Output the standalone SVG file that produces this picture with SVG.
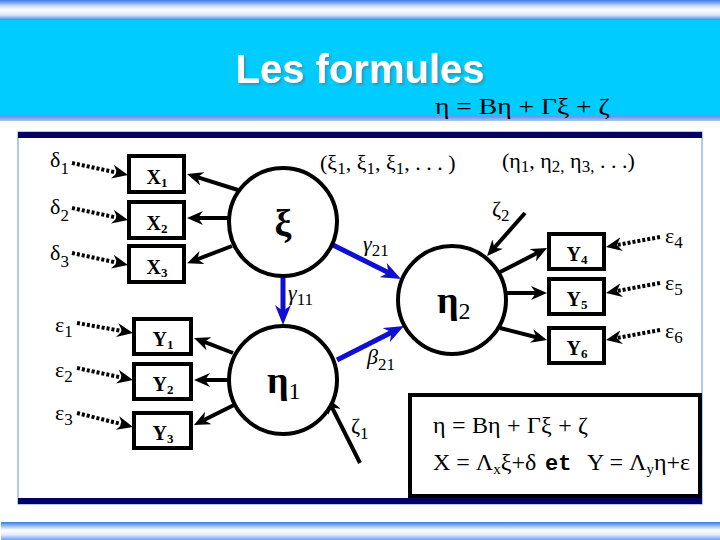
<svg xmlns="http://www.w3.org/2000/svg" width="720" height="540" viewBox="0 0 720 540">
<defs>
<linearGradient id="gTop" x1="0" y1="0" x2="0" y2="1">
<stop offset="0" stop-color="#3f7be6"/>
<stop offset="0.3" stop-color="#c8dcff"/>
<stop offset="0.5" stop-color="#ffffff"/>
<stop offset="0.75" stop-color="#d8e6ff"/>
<stop offset="1" stop-color="#4f86e0"/>
</linearGradient>
<linearGradient id="gBand" x1="0" y1="0" x2="0" y2="1">
<stop offset="0" stop-color="#5c95e8"/>
<stop offset="1" stop-color="#a9c6f2"/>
</linearGradient>
<linearGradient id="gBot" x1="0" y1="0" x2="0" y2="1">
<stop offset="0" stop-color="#3a7ae0"/>
<stop offset="0.45" stop-color="#ffffff"/>
<stop offset="0.7" stop-color="#e4eeff"/>
<stop offset="1" stop-color="#6d9ff0"/>
</linearGradient>
<filter id="sh" x="-5%" y="-20%" width="115%" height="150%">
<feDropShadow dx="2" dy="2" stdDeviation="0.8" flood-color="#4a7f90" flood-opacity="0.7"/>
</filter>
<marker id="ah" viewBox="0 0 16 14" markerUnits="userSpaceOnUse" markerWidth="16" markerHeight="14" refX="7" refY="7" orient="auto">
<path d="M0,0 L16,7 L0,14 L5,7 z" fill="#000"/>
</marker>
<marker id="ahb" viewBox="0 0 20 16" markerUnits="userSpaceOnUse" markerWidth="20" markerHeight="16" refX="9" refY="8" orient="auto">
<path d="M0,0 L20,8 L0,16 L6,8 z" fill="#1010d0"/>
</marker>
<style>
.box{fill:#fff;stroke:#000;stroke-width:4}
.circ{fill:#fff;stroke:#000;stroke-width:4}
.sol{fill:none;stroke:#000;stroke-width:4;marker-end:url(#ah)}
.dot{fill:none;stroke:#000;stroke-width:4;stroke-dasharray:3 2;marker-end:url(#ah)}
.blu{fill:none;stroke:#1010d0;stroke-width:5;marker-end:url(#ahb)}
.gr{font-family:"Liberation Serif","DejaVu Serif",serif;font-size:22px;fill:#000}
.sub{font-size:17px}
.bl{font-family:"Liberation Serif","DejaVu Serif",serif;font-size:20px;font-weight:bold;fill:#000;text-anchor:middle}
.bls{font-size:13px}
.big{font-family:"Liberation Serif","DejaVu Serif",serif;font-size:38px;font-weight:bold;fill:#000}
.f{font-family:"Liberation Serif","DejaVu Serif",serif;font-size:24px;fill:#000}
</style>
</defs>

<!-- header -->
<rect x="0" y="0" width="720" height="20" fill="url(#gTop)"/>
<rect x="0" y="20" width="720" height="96" fill="#00ccff"/>
<rect x="0" y="116" width="720" height="5" fill="url(#gBand)"/>
<text x="360" y="83" text-anchor="middle" font-family="Liberation Sans, Arial, sans-serif" font-size="40" font-weight="bold" fill="#ffffff" filter="url(#sh)">Les formules</text>
<text class="f" x="435" y="114" font-size="28" textLength="175" lengthAdjust="spacingAndGlyphs">η = Bη + Γξ + ζ</text>

<!-- bottom strip -->
<rect x="1" y="522" width="719" height="18" fill="url(#gBot)"/>

<!-- panel -->
<rect x="18" y="132" width="684" height="372" fill="#fff" stroke="#7aa7e0" stroke-width="1.2"/>
<rect x="18" y="132" width="684" height="6" fill="#000066"/>
<rect x="18" y="498" width="684" height="6" fill="#000066"/>

<!-- connectors -->
<g id="connectors">
<path class="dot" d="M72,163 L119.2,173.1"/>
<path class="dot" d="M72,208 L119.2,218.1"/>
<path class="dot" d="M72,253 L119.2,263.1"/>
<path class="dot" d="M77,323 L124.1,331.4"/>
<path class="dot" d="M77,368 L124.2,378.1"/>
<path class="dot" d="M77,413 L124.3,424.8"/>
<path class="dot" d="M660,237 L614.8,245.4"/>
<path class="dot" d="M660,283 L614.8,291.4"/>
<path class="dot" d="M660,330 L614.8,338.4"/>
<path class="sol" d="M238,190 L195.6,176.7"/>
<path class="sol" d="M228,218 L196,218"/>
<path class="sol" d="M232,246 L195.5,260"/>
<path class="sol" d="M233,353 L202.4,341.2"/>
<path class="sol" d="M228,380 L203,380"/>
<path class="sol" d="M234,405 L202,421"/>
<path class="sol" d="M500,272 L539,252.1"/>
<path class="sol" d="M507,293 L538,293"/>
<path class="sol" d="M500,328 L538.3,337.8"/>
<path class="sol" d="M525,213 L493,249.3"/>
<path class="sol" d="M360,463 L331.1,405.6"/>
<path class="blu" d="M333,245 L391.2,274.1"/>
<path class="blu" d="M283,277 L283,314"/>
<path class="blu" d="M337,360 L394.2,331"/>
</g>

<!-- error terms -->
<g id="delta1"><text class="gr" x="50" y="167">δ<tspan class="sub" dy="7">1</tspan></text></g>
<g id="delta2"><text class="gr" x="50" y="214">δ<tspan class="sub" dy="7">2</tspan></text></g>
<g id="delta3"><text class="gr" x="50" y="260">δ<tspan class="sub" dy="7">3</tspan></text></g>
<g id="eps1"><text class="gr" x="55" y="332">ε<tspan class="sub" dy="5">1</tspan></text></g>
<g id="eps2"><text class="gr" x="55" y="377">ε<tspan class="sub" dy="5">2</tspan></text></g>
<g id="eps3"><text class="gr" x="55" y="420">ε<tspan class="sub" dy="5">3</tspan></text></g>
<g id="eps4"><text class="gr" x="665" y="243">ε<tspan class="sub" dy="5">4</tspan></text></g>
<g id="eps5"><text class="gr" x="665" y="290">ε<tspan class="sub" dy="5">5</tspan></text></g>
<g id="eps6"><text class="gr" x="665" y="338">ε<tspan class="sub" dy="5">6</tspan></text></g>

<!-- observed variables -->
<g id="X1"><rect class="box" x="129" y="156" width="55" height="36"/><text class="bl" x="157" y="184">X<tspan class="bls" dy="3">1</tspan></text></g>
<g id="X2"><rect class="box" x="129" y="202" width="55" height="36"/><text class="bl" x="157" y="230">X<tspan class="bls" dy="3">2</tspan></text></g>
<g id="X3"><rect class="box" x="129" y="246" width="55" height="36"/><text class="bl" x="157" y="274">X<tspan class="bls" dy="3">3</tspan></text></g>
<g id="Y1"><rect class="box" x="134" y="319" width="57" height="35"/><text class="bl" x="163" y="346">Y<tspan class="bls" dy="3">1</tspan></text></g>
<g id="Y2"><rect class="box" x="134" y="364" width="57" height="35"/><text class="bl" x="163" y="391">Y<tspan class="bls" dy="3">2</tspan></text></g>
<g id="Y3"><rect class="box" x="134" y="413" width="57" height="35"/><text class="bl" x="163" y="440">Y<tspan class="bls" dy="3">3</tspan></text></g>
<g id="Y4"><rect class="box" x="549" y="234" width="55" height="35"/><text class="bl" x="577" y="261">Y<tspan class="bls" dy="3">4</tspan></text></g>
<g id="Y5"><rect class="box" x="549" y="279" width="55" height="35"/><text class="bl" x="577" y="306">Y<tspan class="bls" dy="3">5</tspan></text></g>
<g id="Y6"><rect class="box" x="549" y="328" width="55" height="35"/><text class="bl" x="577" y="355">Y<tspan class="bls" dy="3">6</tspan></text></g>

<!-- latent variables -->
<g id="xi"><circle class="circ" cx="283" cy="222" r="54"/><text class="big" x="283" y="236" text-anchor="middle">ξ</text></g>
<g id="eta1"><circle class="circ" cx="283" cy="380" r="54"/><text class="big" x="267" y="393">η<tspan font-size="24" font-weight="normal" dy="6">1</tspan></text></g>
<g id="eta2"><circle class="circ" cx="452" cy="300" r="54"/><text class="big" x="437" y="313">η<tspan font-size="24" font-weight="normal" dy="6">2</tspan></text></g>

<!-- path labels -->
<g id="labels">
<text class="gr" x="363" y="251"><tspan font-style="italic">γ</tspan><tspan class="sub" dy="5">21</tspan></text>
<text class="gr" x="288" y="300"><tspan font-style="italic">γ</tspan><tspan class="sub" dy="5">11</tspan></text>
<text class="gr" x="367" y="364"><tspan font-style="italic">β</tspan><tspan class="sub" dy="6">21</tspan></text>
<text class="gr" x="351" y="433">ζ<tspan class="sub" dy="6">1</tspan></text>
<text class="gr" x="492" y="216">ζ<tspan class="sub" dy="5">2</tspan></text>
<text class="gr" x="320" y="170">(ξ<tspan class="sub" dy="4">1</tspan><tspan dy="-4">, ξ</tspan><tspan class="sub" dy="4">1</tspan><tspan dy="-4">, ξ</tspan><tspan class="sub" dy="4">1</tspan><tspan dy="-4">, . . . )</tspan></text>
<text class="gr" x="502" y="168">(η<tspan class="sub" dy="4">1</tspan><tspan dy="-4">, η</tspan><tspan class="sub" dy="4">2,</tspan><tspan dy="-4"> η</tspan><tspan class="sub" dy="4">3,</tspan><tspan dy="-4"> . . .)</tspan></text>
</g>

<!-- formula box -->
<g id="formulas">
<rect x="410" y="395" width="290" height="101" fill="#fff" stroke="#000" stroke-width="4"/>
<text class="f" x="433" y="433" textLength="155" lengthAdjust="spacing">η = Bη + Γξ + ζ</text>
<text class="f" x="433" y="470">X = Λ<tspan font-size="15" dy="4">x</tspan><tspan dy="-4">ξ+δ</tspan><tspan x="545" font-family="Liberation Mono, Courier New, monospace" font-weight="bold" font-size="22">et</tspan><tspan x="587">Y = Λ</tspan><tspan font-size="15" dy="4">y</tspan><tspan dy="-4">η+ε</tspan></text>
</g>
</svg>
